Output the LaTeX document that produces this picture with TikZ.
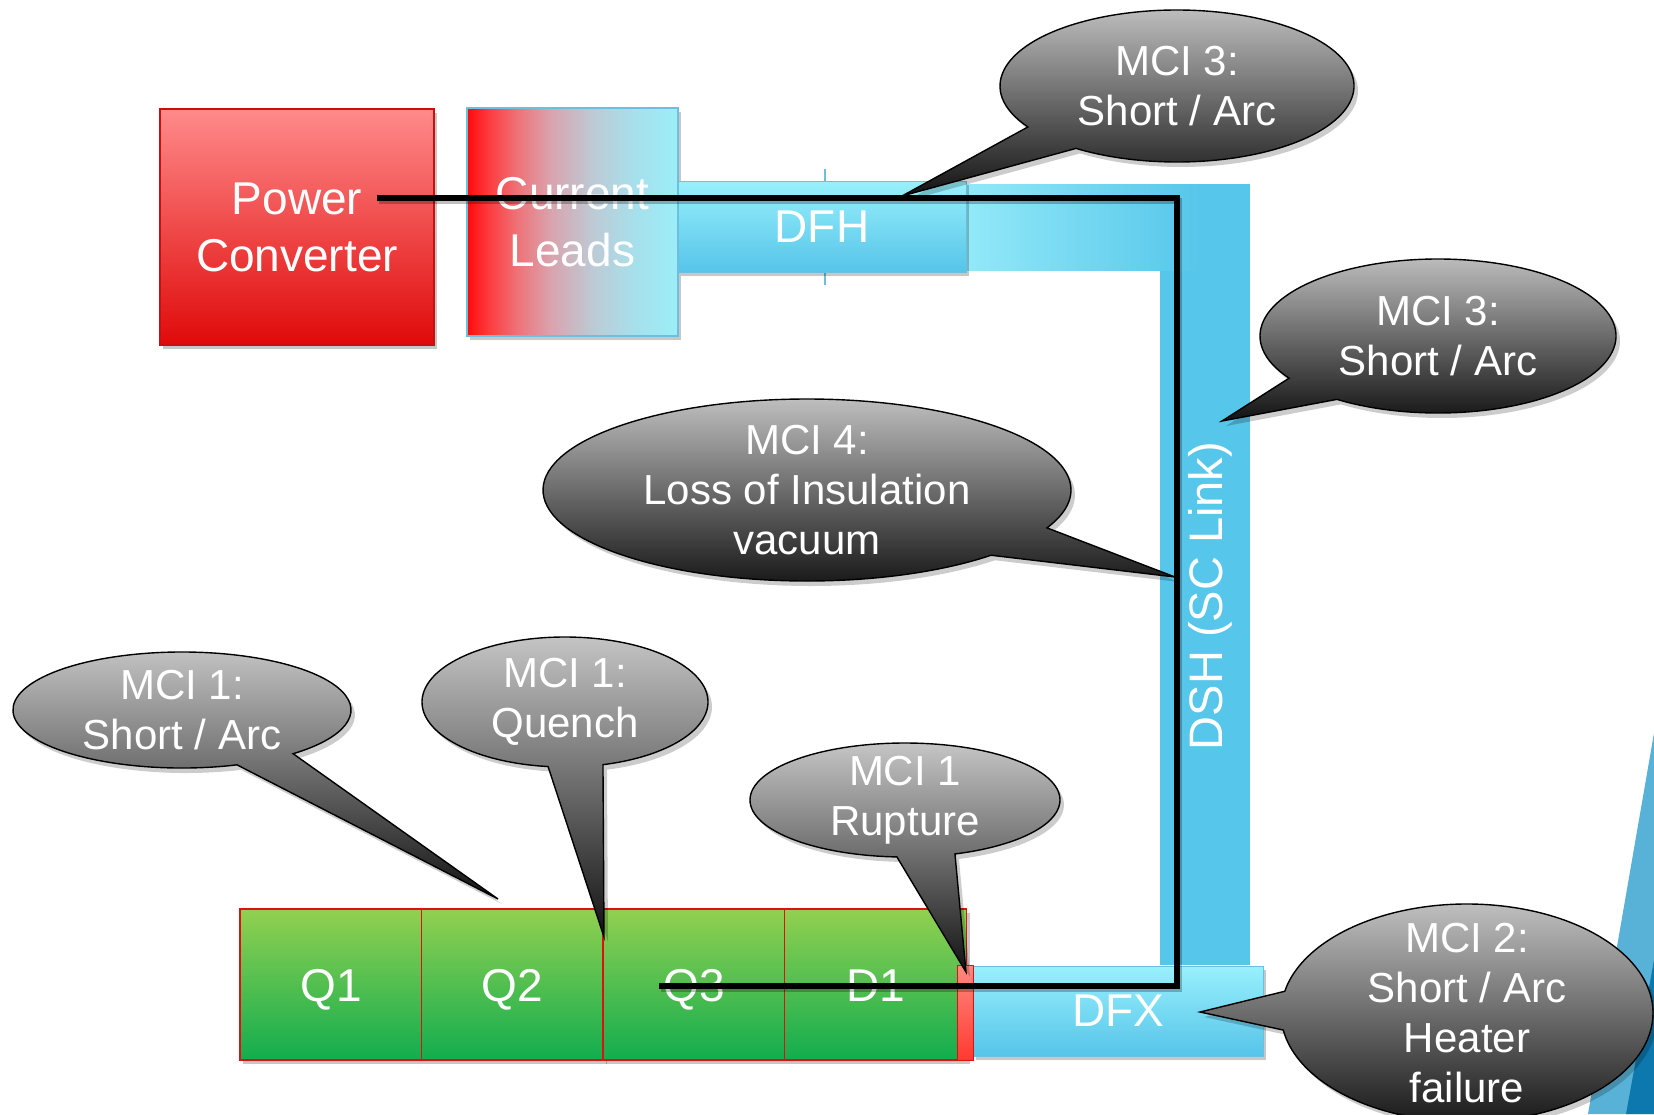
\documentclass[tikz,border=0pt]{standalone}
\usepackage{fontspec}
\setmainfont{Liberation Sans}
\usetikzlibrary{calc,shadows}

% palette
\definecolor{pcTop}{HTML}{FF8A8A}
\definecolor{pcBot}{HTML}{E00A0A}
\definecolor{pcEdge}{HTML}{C81010}
\definecolor{cyanTop}{HTML}{98F0FC}
\definecolor{cyanBot}{HTML}{56C4E9}
\definecolor{tube}{HTML}{56C6EA}
\definecolor{tubeLight}{HTML}{92E9F8}
\definecolor{tubeEdge}{HTML}{6CC0DE}
\definecolor{greenTop}{HTML}{92D050}
\definecolor{greenBot}{HTML}{12AD4F}
\definecolor{magEdge}{HTML}{E01010}
\definecolor{barTop}{HTML}{FF8A80}
\definecolor{barBot}{HTML}{FF3A30}
\definecolor{bubTop}{HTML}{C6C6C6}
\definecolor{bubBot}{HTML}{121212}
\definecolor{decoLight}{HTML}{58B2D8}
\definecolor{decoDark}{HTML}{0D78AE}
\definecolor{leadA}{HTML}{FF0A0A}
\definecolor{leadB}{HTML}{FD3A3E}
\definecolor{leadC}{HTML}{EE7378}
\definecolor{leadD}{HTML}{D9A4AE}
\definecolor{leadE}{HTML}{BCCBD6}
\definecolor{leadF}{HTML}{A6E0EC}
\definecolor{leadG}{HTML}{9BEEF8}

% warm-to-cold blend of the current leads
\pgfdeclarehorizontalshading{leadsshade}{100bp}{color(0bp)=(leadA); color(25bp)=(leadA);
  color(30bp)=(leadB); color(37bp)=(leadC); color(45bp)=(leadD); color(55bp)=(leadE);
  color(65bp)=(leadF); color(75bp)=(leadG); color(100bp)=(leadG)}

% speech bubble: name, centre, x radius, y radius, start/end angle of the rim, tip, text
\newcommand\bubble[8]{%
  \begin{scope}[transform canvas={xshift=2pt,yshift=-2.5pt}]
    \fill[black, opacity=.2] #7 -- ($#2+(#5:#3 and #4)$)
      arc[start angle=#5, end angle=#6, x radius=#3, y radius=#4] -- cycle;
  \end{scope}
  \shadedraw[bubble] #7 -- ($#2+(#5:#3 and #4)$)
    arc[start angle=#5, end angle=#6, x radius=#3, y radius=#4] -- cycle;
  \node[bubbletext] (#1) at #2 {#8};
}

\begin{document}
\begin{tikzpicture}[x=0.5pt, y=-0.5pt,
  box/.style={inner sep=0pt, text=white, align=center,
    font=\fontsize{23}{28.5}\selectfont,
    drop shadow={shadow xshift=1.5pt, shadow yshift=-2pt, opacity=.22, fill=black}},
  magnet/.style={box, minimum width=91pt, minimum height=75.5pt,
    text height=16.5pt, text depth=0pt,
    draw=magEdge, line width=0.6pt, top color=greenTop, bottom color=greenBot},
  feedbox/.style={box, draw=tubeEdge, line width=0.4pt, top color=cyanTop, bottom color=cyanBot},
  wire/.style={line width=2.8pt, black, line join=miter},
  bubble/.style={draw=black, line width=0.7pt, top color=bubTop, bottom color=bubBot},
  bubbletext/.style={text=white, align=center, inner sep=0pt,
    font=\fontsize{21}{25}\selectfont}]

\useasboundingbox (0,0) rectangle (1654,1114);
\clip (0,0) rectangle (1654,1114);
\fill[white] (0,0) rectangle (1654,1114);

% blue band at the right margin
\fill[decoLight] (1654,733) -- (1654,1114) -- (1588,1114) -- cycle;
\fill[decoDark] (1654,960) -- (1654,1114) -- (1626,1114) -- cycle;

% superconducting link: horizontal run and vertical drop
\fill[tube] (1160,184) rectangle (1250,965);
\shade[left color=tubeLight, right color=tube] (966,184) rectangle (1200,270);

% tick across the DFH
\draw[tubeEdge, line width=0.75pt] (825,169) -- (825,285);

% boxes
\node[box, minimum width=137pt, minimum height=118pt, draw=pcEdge, line width=0.6pt,
  top color=pcTop, bottom color=pcBot] (pc) at (297,227) {Power\\Converter};
\node[box, minimum width=105.5pt, minimum height=114pt, draw=tubeEdge, line width=0.6pt,
  shading=leadsshade] (leads) at (572.5,222) {Current\\Leads};
\node[feedbox, minimum width=144pt, minimum height=45.5pt] (dfh) at (822,226.5) {DFH};
\node[feedbox, minimum width=145pt, minimum height=45pt] (dfx) at (1118,1011) {DFX};

\node[magnet] (q1) at (331,984.5) {Q1};
\node[magnet] (q2) at (512.5,984.5) {Q2};
\node[magnet] (q3) at (694,984.5) {Q3};
\node[magnet] (d1) at (875.5,984.5) {D1};
\node[inner sep=0pt, minimum width=8pt, minimum height=47.5pt, draw=magEdge, line width=0.4pt,
  top color=barTop, bottom color=barBot] (bar) at (965,1012.5) {};

\node[text=white, rotate=90, inner sep=0pt, font=\fontsize{23.5}{28}\selectfont]
  (dsh) at (1210,596) {DSH (SC Link)};

% the powering circuit
\coordinate (wStart) at (377,198);
\coordinate (wTop) at (1177,198);
\coordinate (wBot) at (1177,986);
\coordinate (wEnd) at (659,986);
\begin{scope}[transform canvas={xshift=1.2pt,yshift=-1.5pt}]
  \draw[wire, black, opacity=.25] (wStart) -- (wTop) -- (wBot) -- (wEnd);
\end{scope}
\draw[wire] (wStart) -- (wTop) -- (wBot) -- (wEnd);

% incident call-outs
\bubble{mciA}{(1177,86)}{177}{76}{147.4}{484.8}{(902,196)}{MCI 3:\\Short / Arc}
\bubble{mciB}{(1438,336)}{178}{77}{146.8}{484.6}{(1222,421)}{MCI 3:\\Short / Arc}
\bubble{mciC}{(807,490)}{264}{91}{45.8}{384.6}{(1175,577)}{MCI 4:\\Loss of Insulation\\vacuum}
\bubble{mciD}{(182,710)}{169}{58}{71}{408.9}{(498,899)}{MCI 1:\\Short / Arc}
\bubble{mciE}{(565,702)}{143}{65}{96.8}{434.6}{(604,937)}{MCI 1:\\Quench}
\bubble{mciF}{(905,800)}{155}{57}{93}{431.2}{(966,972)}{MCI 1\\Rupture}
\bubble{mciG}{(1467,1013)}{186}{109}{191.5}{531}{(1200,1012)}{MCI 2:\\Short / Arc\\Heater\\failure}

\end{tikzpicture}
\end{document}
